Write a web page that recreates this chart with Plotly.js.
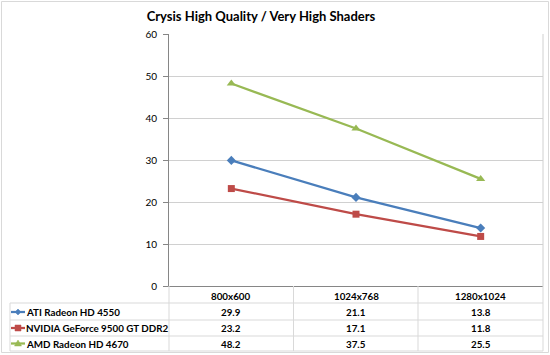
<!DOCTYPE html>
<html>
<head>
<meta charset="utf-8">
<script src="https://cdn.plot.ly/plotly-3.0.1.min.js"></script>
<style>html,body{margin:0;padding:0;background:#fff;}#chart{width:550px;height:355px;}</style>
</head>
<body>
<div id="chart"></div>
<script>
var categories = ["800x600", "1024x768", "1280x1024"];
var seriesNames = ["ATI Radeon HD 4550", "NVIDIA GeForce 9500 GT DDR2", "AMD Radeon HD 4670"];
var ati = [29.9, 21.1, 13.8];
var nvidia = [23.2, 17.1, 11.8];
var amd = [48.2, 37.5, 25.5];
var yTicks = [0, 10, 20, 30, 40, 50, 60];

var seriesValues = [ati, nvidia, amd];
var colors = ["#4A7EBB", "#BE4B48", "#98B954"];
var symbols = ["diamond", "square", "triangle-up"];
var sizes = [7, 7, 8];

var W = 550, H = 355;
var L = 169, R = 543, T = 34, B = 286;
function px(x) { return (x - L) / (R - L); }
function py(y) { return (B - y) / (B - T); }

var font = "Lato, 'Open Sans', sans-serif";
var tfs = 9.8;

var traces = seriesValues.map(function (vals, i) {
  return {
    type: "scatter", mode: "lines+markers",
    x: categories, y: vals, name: seriesNames[i],
    line: {color: colors[i], width: 2.25},
    marker: {symbol: symbols[i], size: sizes[i], color: colors[i]},
    showlegend: false, hoverinfo: "skip"
  };
});

var gridC = "#D0D0D0", axisC = "#868686", tableC = "#D9D9D9";
var shapes = [];
var annotations = [];

// outer chart border
shapes.push({type: "rect", xref: "paper", yref: "paper",
  x0: px(1.5), x1: px(548.5), y0: py(1.5), y1: py(352.5),
  line: {color: "#D9D9D9", width: 1}, layer: "below"});
// right border of plot area
shapes.push({type: "line", xref: "paper", yref: "paper",
  x0: 1, x1: 1, y0: 0, y1: 1, line: {color: gridC, width: 1}});

// table rows
var rowLines = [303, 320, 336, 351];
var rowCenters = [312, 328, 343.5];
var headerCenter = 295.5;
var colBounds = [169, 293.5, 418, 543];
rowLines.forEach(function (y) {
  shapes.push({type: "line", xref: "paper", yref: "paper",
    x0: px(10), x1: px(543), y0: py(y), y1: py(y), line: {color: tableC, width: 1}});
});
colBounds.forEach(function (x) {
  shapes.push({type: "line", xref: "paper", yref: "paper",
    x0: px(x), x1: px(x), y0: py(286), y1: py(351), line: {color: tableC, width: 1}});
});
shapes.push({type: "line", xref: "paper", yref: "paper",
  x0: px(10), x1: px(10), y0: py(303), y1: py(351), line: {color: tableC, width: 1}});

// header labels
categories.forEach(function (c, j) {
  annotations.push({xref: "x", yref: "paper", x: c, y: py(headerCenter),
    text: "<b>" + c + "</b>", showarrow: false, xanchor: "center", yanchor: "middle",
    font: {family: font, size: tfs, color: "#000"}});
});
// values and names
seriesValues.forEach(function (vals, i) {
  var yc = rowCenters[i];
  vals.forEach(function (v, j) {
    annotations.push({xref: "x", yref: "paper", x: categories[j], y: py(yc),
      text: "<b>" + v.toFixed(1) + "</b>", showarrow: false, xanchor: "center", yanchor: "middle",
      font: {family: font, size: tfs, color: "#000"}});
  });
  annotations.push({xref: "paper", yref: "paper", x: px(24), y: py(yc),
    text: "<b>" + seriesNames[i] + "</b>", showarrow: false, xanchor: "left", yanchor: "middle",
    font: {family: font, size: tfs, color: "#000"}});
  // legend key line
  shapes.push({type: "line", xref: "paper", yref: "paper",
    x0: px(11), x1: px(25), y0: py(yc), y1: py(yc), line: {color: colors[i], width: 2.25}});
  // legend key marker
  var cx = 18, cy = yc, path;
  if (i === 0) {
    path = "M" + px(cx) + "," + py(cy - 3) + " L" + px(cx + 3) + "," + py(cy) + " L" + px(cx) + "," + py(cy + 3) + " L" + px(cx - 3) + "," + py(cy) + " Z";
  } else if (i === 1) {
    path = "M" + px(cx - 3) + "," + py(cy - 3) + " L" + px(cx + 3) + "," + py(cy - 3) + " L" + px(cx + 3) + "," + py(cy + 3) + " L" + px(cx - 3) + "," + py(cy + 3) + " Z";
  } else {
    path = "M" + px(cx) + "," + py(cy - 3.5) + " L" + px(cx + 3.5) + "," + py(cy + 2.5) + " L" + px(cx - 3.5) + "," + py(cy + 2.5) + " Z";
  }
  shapes.push({type: "path", xref: "paper", yref: "paper", path: path,
    fillcolor: colors[i], line: {color: colors[i], width: 0.5}});
});

var layout = {
  width: W, height: H,
  margin: {l: L, r: W - R, t: T, b: H - B, pad: 0},
  paper_bgcolor: "#fff", plot_bgcolor: "#fff",
  title: {text: "<b>Crysis High Quality / Very High Shaders</b>",
    xref: "container", x: 261 / W, xanchor: "center",
    yref: "container", y: 1 - 16 / H, yanchor: "middle",
    font: {family: font, size: 13, color: "#000"}},
  xaxis: {type: "category", range: [-0.5, 2.5], showgrid: false, showticklabels: false,
    showline: true, linecolor: axisC, linewidth: 1, ticks: "", zeroline: false, fixedrange: true},
  yaxis: {range: [0, 60], tickvals: yTicks, showgrid: true, gridcolor: gridC, gridwidth: 1,
    showline: true, linecolor: axisC, linewidth: 1, ticks: "outside", ticklen: 5, tickcolor: axisC,
    zeroline: false, tickfont: {family: font, size: 10, color: "#000"}, ticklabelstandoff: 4},
  shapes: shapes,
  annotations: annotations,
  showlegend: false
};

Plotly.newPlot("chart", traces, layout, {staticPlot: true, displayModeBar: false});
</script>
</body>
</html>
